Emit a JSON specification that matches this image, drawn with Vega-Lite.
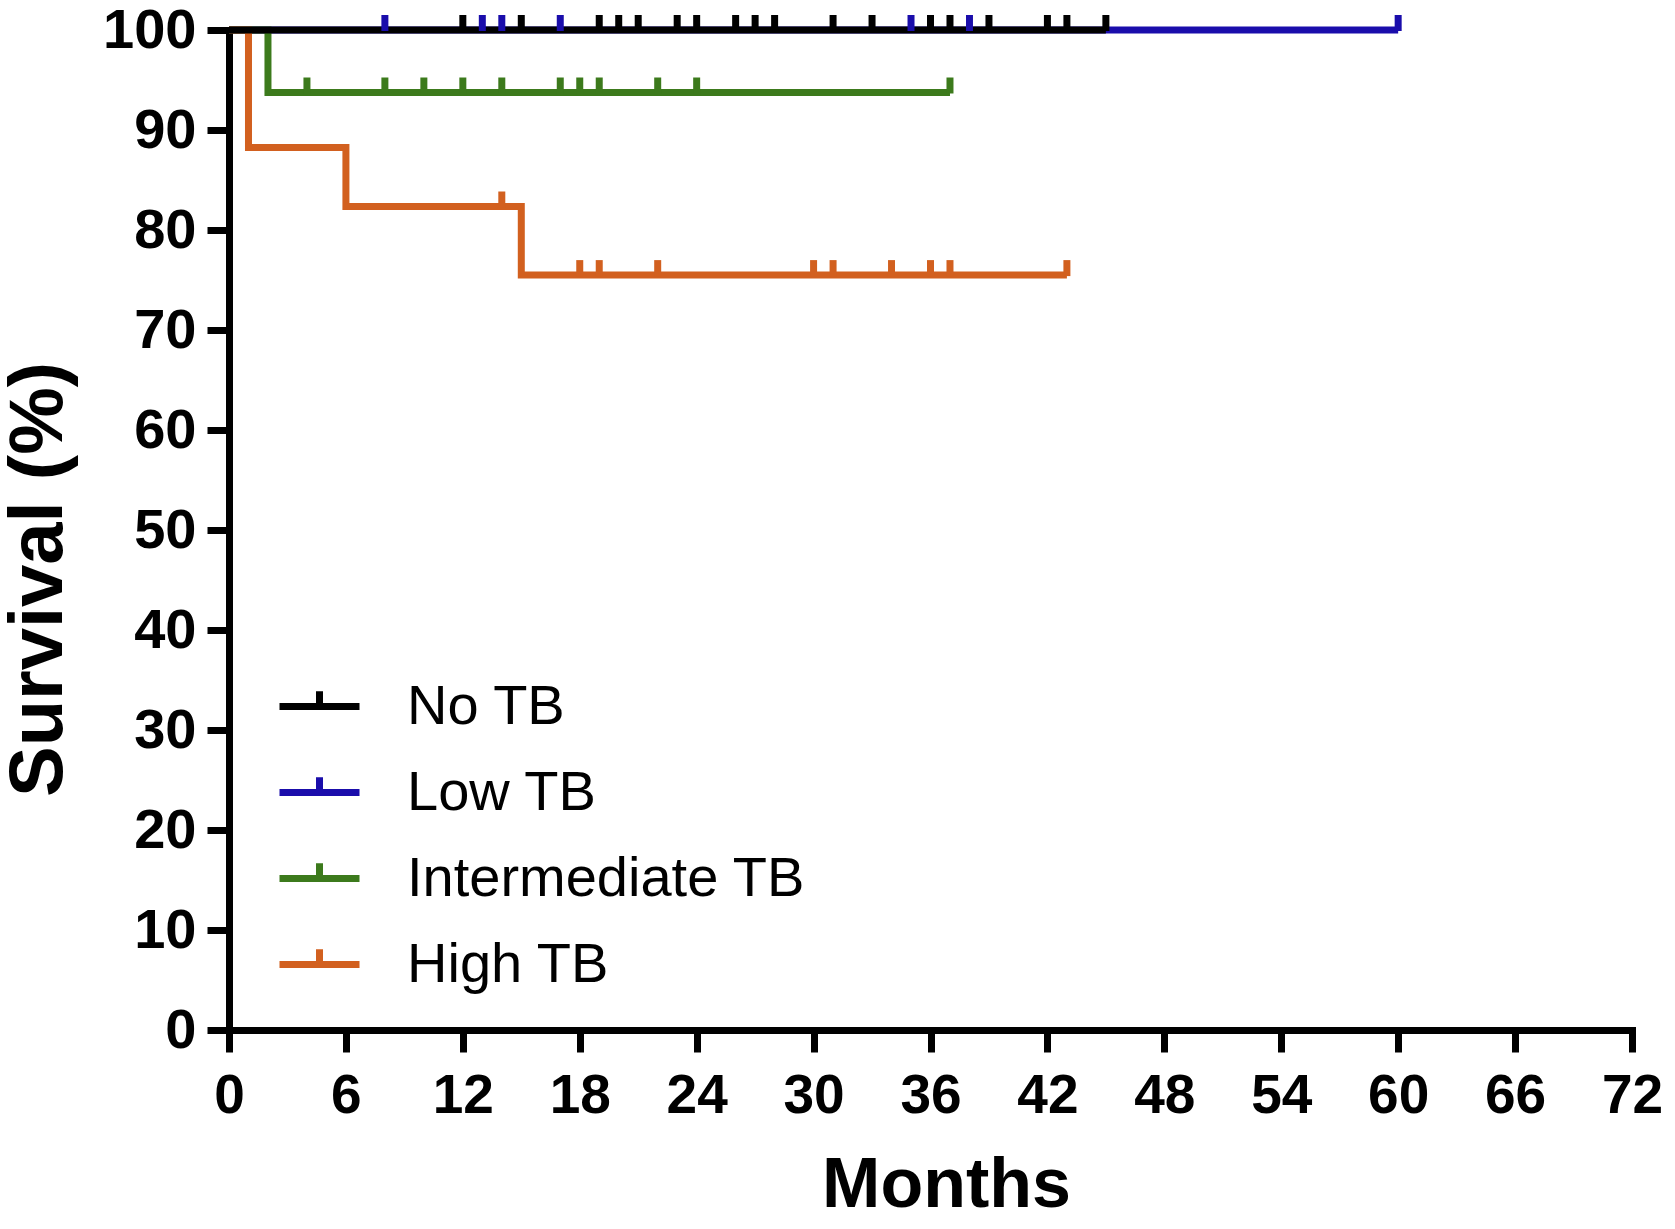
{
  "$schema": "https://vega.github.io/schema/vega-lite/v6.json",
  "autosize": {"type": "none"},
  "padding": {"left": 229, "top": 30, "right": 43, "bottom": 199},
  "width": 1403,
  "height": 1000,
  "background": "white",
  "config": {
    "view": {"stroke": null},
    "font": "Liberation Sans"
  },
  "datasets": {
    "curves": [
      {"group": "Low TB", "t": 0, "s": 100},
      {"group": "Low TB", "t": 60, "s": 100},
      {"group": "Intermediate TB", "t": 0, "s": 100},
      {"group": "Intermediate TB", "t": 2, "s": 93.75},
      {"group": "Intermediate TB", "t": 37, "s": 93.75},
      {"group": "High TB", "t": 0, "s": 100},
      {"group": "High TB", "t": 1, "s": 88.24},
      {"group": "High TB", "t": 6, "s": 82.35},
      {"group": "High TB", "t": 15, "s": 75.49},
      {"group": "High TB", "t": 43, "s": 75.49},
      {"group": "No TB", "t": 0, "s": 100},
      {"group": "No TB", "t": 45, "s": 100}
    ],
    "censors": [
      {"group": "Low TB", "t": 8, "s": 100},
      {"group": "Low TB", "t": 13, "s": 100},
      {"group": "Low TB", "t": 14, "s": 100},
      {"group": "Low TB", "t": 17, "s": 100},
      {"group": "Low TB", "t": 35, "s": 100},
      {"group": "Low TB", "t": 38, "s": 100},
      {"group": "Low TB", "t": 60, "s": 100},
      {"group": "Intermediate TB", "t": 4, "s": 93.75},
      {"group": "Intermediate TB", "t": 8, "s": 93.75},
      {"group": "Intermediate TB", "t": 10, "s": 93.75},
      {"group": "Intermediate TB", "t": 12, "s": 93.75},
      {"group": "Intermediate TB", "t": 14, "s": 93.75},
      {"group": "Intermediate TB", "t": 17, "s": 93.75},
      {"group": "Intermediate TB", "t": 18, "s": 93.75},
      {"group": "Intermediate TB", "t": 19, "s": 93.75},
      {"group": "Intermediate TB", "t": 22, "s": 93.75},
      {"group": "Intermediate TB", "t": 24, "s": 93.75},
      {"group": "Intermediate TB", "t": 37, "s": 93.75},
      {"group": "High TB", "t": 14, "s": 82.35},
      {"group": "High TB", "t": 18, "s": 75.49},
      {"group": "High TB", "t": 19, "s": 75.49},
      {"group": "High TB", "t": 22, "s": 75.49},
      {"group": "High TB", "t": 30, "s": 75.49},
      {"group": "High TB", "t": 31, "s": 75.49},
      {"group": "High TB", "t": 34, "s": 75.49},
      {"group": "High TB", "t": 36, "s": 75.49},
      {"group": "High TB", "t": 37, "s": 75.49},
      {"group": "High TB", "t": 43, "s": 75.49},
      {"group": "No TB", "t": 12, "s": 100},
      {"group": "No TB", "t": 15, "s": 100},
      {"group": "No TB", "t": 19, "s": 100},
      {"group": "No TB", "t": 20, "s": 100},
      {"group": "No TB", "t": 21, "s": 100},
      {"group": "No TB", "t": 23, "s": 100},
      {"group": "No TB", "t": 24, "s": 100},
      {"group": "No TB", "t": 26, "s": 100},
      {"group": "No TB", "t": 27, "s": 100},
      {"group": "No TB", "t": 28, "s": 100},
      {"group": "No TB", "t": 31, "s": 100},
      {"group": "No TB", "t": 33, "s": 100},
      {"group": "No TB", "t": 36, "s": 100},
      {"group": "No TB", "t": 37, "s": 100},
      {"group": "No TB", "t": 39, "s": 100},
      {"group": "No TB", "t": 42, "s": 100},
      {"group": "No TB", "t": 43, "s": 100},
      {"group": "No TB", "t": 45, "s": 100}
    ]
  },
  "encoding": {
    "x": {
      "field": "t",
      "type": "quantitative",
      "scale": {"domain": [0, 72], "nice": false, "zero": true},
      "axis": {
        "values": [0, 6, 12, 18, 24, 30, 36, 42, 48, 54, 60, 66, 72],
        "title": "Months",
        "grid": false,
        "labelFlush": false,
        "labelOverlap": false,
        "labelFont": "Liberation Sans",
        "labelFontSize": 55,
        "labelFontWeight": "bold",
        "labelColor": "black",
        "labelPadding": 17,
        "tickSize": 22,
        "tickWidth": 7,
        "tickColor": "black",
        "domainColor": "black",
        "domainWidth": 7,
        "domainCap": "square",
        "titleFont": "Liberation Sans",
        "titleFontSize": 70,
        "titleFontWeight": "bold",
        "titleColor": "black",
        "titleX": 717,
        "titleY": 176,
        "titleBaseline": "alphabetic"
      }
    },
    "y": {
      "field": "s",
      "type": "quantitative",
      "scale": {"domain": [0, 100], "nice": false},
      "axis": {
        "values": [0, 10, 20, 30, 40, 50, 60, 70, 80, 90, 100],
        "title": "Survival (%)",
        "grid": false,
        "labelFlush": false,
        "labelOverlap": false,
        "labelFont": "Liberation Sans",
        "labelFontSize": 56,
        "labelFontWeight": "bold",
        "labelColor": "black",
        "labelPadding": 11,
        "tickSize": 22,
        "tickWidth": 7,
        "tickColor": "black",
        "domainColor": "black",
        "domainWidth": 7,
        "domainCap": "square",
        "titleFont": "Liberation Sans",
        "titleFontSize": 76,
        "titleFontWeight": "bold",
        "titleColor": "black",
        "titleAngle": -90,
        "titleX": -168,
        "titleY": 549,
        "titleBaseline": "alphabetic",
        "titleAlign": "center"
      }
    }
  },
  "layer": [
    {
      "data": {"name": "curves"},
      "mark": {"type": "line", "interpolate": "step-after", "strokeWidth": 7, "strokeCap": "butt", "strokeJoin": "miter"},
      "encoding": {
        "color": {
          "field": "group",
          "type": "nominal",
          "scale": {
            "domain": ["No TB", "Low TB", "Intermediate TB", "High TB"],
            "range": ["#000000", "#1a0dab", "#3c7a1c", "#d2601f"]
          },
          "legend": {
            "orient": "none",
            "legendX": 47,
            "legendY": 633,
            "title": null,
            "padding": 0,
            "symbolType": "M-1,0H1M0,0V-0.38",
            "symbolSize": 6400,
            "symbolStrokeWidth": 7,
            "labelFont": "Liberation Sans",
            "labelFontSize": 56,
            "labelFontWeight": "normal",
            "labelColor": "black",
            "labelOffset": 44,
            "rowPadding": 14,
            "labelLimit": 1000
          }
        }
      }
    },
    {
      "data": {"name": "censors"},
      "mark": {"type": "tick", "orient": "vertical", "size": 16, "thickness": 7, "yOffset": -7, "opacity": 1},
      "encoding": {
        "fill": {
          "field": "group",
          "type": "nominal",
          "scale": {
            "domain": ["No TB", "Low TB", "Intermediate TB", "High TB"],
            "range": ["#000000", "#1a0dab", "#3c7a1c", "#d2601f"]
          },
          "legend": null
        }
      }
    }
  ]
}
